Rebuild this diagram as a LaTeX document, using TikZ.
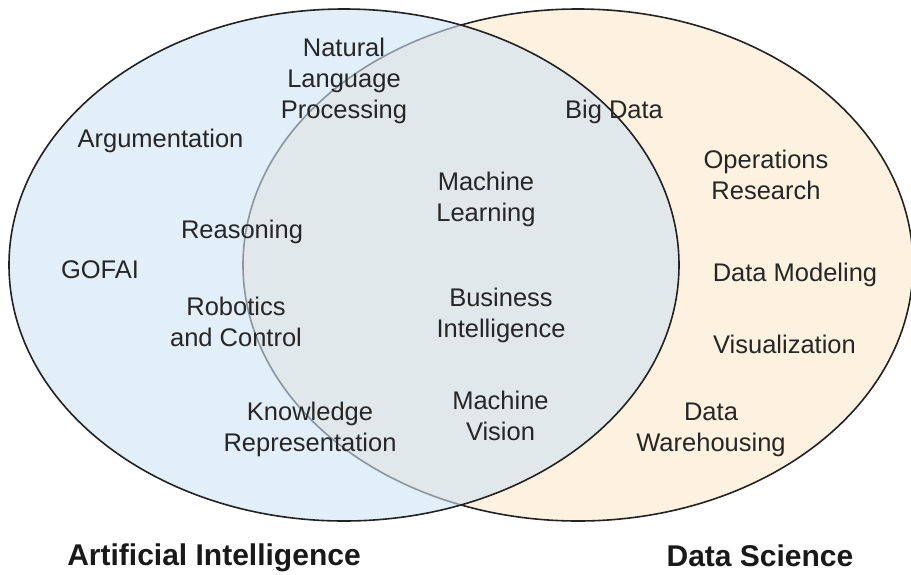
\documentclass[tikz,border=0pt]{standalone}
\usepackage{fontspec}
\setmainfont{Liberation Sans}
\definecolor{aiblue}{HTML}{CFE2F3}
\definecolor{dsbeige}{HTML}{FDF2E0}
\definecolor{edge}{HTML}{222222}
\begin{document}
\begin{tikzpicture}[x=1pt,y=-1pt,
  lbl/.style={align=center,anchor=base,inner sep=0pt,text=black!85,
    font=\fontsize{25.5}{31}\selectfont},
  title/.style={anchor=base,inner sep=0pt,text=black!90,
    font=\fontsize{30}{36}\selectfont\bfseries},
  setline/.style={draw=edge,line width=1.6pt}]
\useasboundingbox (0,0) rectangle (911,574);
% Data Science set (drawn first)
\draw[setline,fill=dsbeige] (578,265) ellipse [x radius=335, y radius=256];
% Artificial Intelligence set (semi-transparent over it)
\fill[aiblue,fill opacity=0.6] (344,265) ellipse [x radius=335, y radius=256];
\draw[setline] (344,265) ellipse [x radius=335, y radius=256];
% AI-only labels (base = last line's baseline)
\node[lbl] (nlp) at (344,118) {Natural\\Language\\Processing};
\node[lbl] (arg) at (160.5,147) {Argumentation};
\node[lbl] (rea) at (242,238) {Reasoning};
\node[lbl] (gof) at (100,278) {GOFAI};
\node[lbl] (rob) at (236,346) {Robotics\\and Control};
\node[lbl] (kr) at (310,451) {Knowledge\\Representation};
% overlap labels
\node[lbl] (ml) at (486,221) {Machine\\Learning};
\node[lbl] (bi) at (501,337) {Business\\Intelligence};
\node[lbl] (mv) at (500.5,440) {Machine\\Vision};
% DS labels
\node[lbl] (bd) at (614,118) {Big Data};
\node[lbl] (or) at (766,199) {Operations\\Research};
\node[lbl] (dm) at (795,281) {Data Modeling};
\node[lbl] (vis) at (784.5,353) {Visualization};
\node[lbl] (dw) at (711,451) {Data\\Warehousing};
% titles
\node[title] (ai) at (214,565) {Artificial Intelligence};
\node[title] (ds) at (760,566) {Data Science};
\end{tikzpicture}
\end{document}
